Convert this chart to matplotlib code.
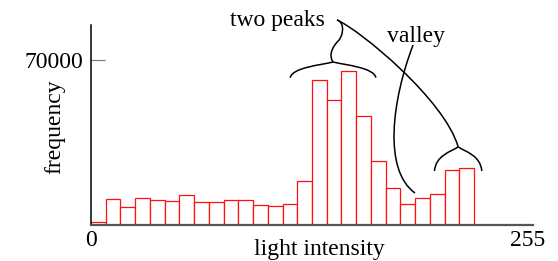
import matplotlib.pyplot as plt
import numpy as np
from matplotlib.path import Path
from matplotlib.patches import PathPatch

# histogram of light intensity (26 filled bins of width 8.6)
bin_w = 8.6
counts = [1150, 11000, 7600, 11600, 10500, 10200, 12600, 9750, 9750, 10500,
          10500, 8500, 8060, 8900, 18650, 61400, 53000, 65200, 46400, 27300,
          15700, 9000, 11600, 13150, 23500, 24300]
x_ticks = [0, 255]
x_ticklabels = ['0', '255']
y_ticks = [70000]
y_ticklabels = ['70000']

plt.rcParams['font.family'] = ['Liberation Serif', 'DejaVu Serif']
fs = 17

fig = plt.figure(figsize=(5.58, 2.61), dpi=100)
ax = fig.add_axes([91 / 558, 36 / 261, 442 / 558, 200 / 261])

left = np.arange(len(counts)) * bin_w
ax.bar(left, counts, width=bin_w, align='edge', facecolor='white',
       edgecolor='#ff1010', linewidth=0.9)

ax.set_xlim(0, 258)
ax.set_ylim(0, 84850)
for s in ['top', 'right']:
    ax.spines[s].set_visible(False)
ax.spines['left'].set_color('black')
ax.spines['left'].set_linewidth(1.1)
ax.spines['bottom'].set_color('#555555')
ax.spines['bottom'].set_linewidth(1.6)

ax.set_xticks(x_ticks)
ax.set_xticklabels(x_ticklabels, fontsize=fs)
ax.tick_params(axis='x', length=0, pad=3.5)
ax.set_yticks(y_ticks)
ax.set_yticklabels(y_ticklabels, fontsize=fs)
ax.tick_params(axis='y', direction='in', length=10, width=0.8, color='#777777', pad=5.5)

ax.text(0.516, -0.122, 'light intensity', transform=ax.transAxes,
        ha='center', va='center', fontsize=fs)
ax.text(-0.0826, 0.49, 'frequency', transform=ax.transAxes, rotation=90,
        ha='center', va='center', fontsize=fs)


def curve(pts):
    # chain of cubic bezier segments: p0, c1, c2, p1, c1, c2, p2 ...
    codes = [Path.MOVETO] + [Path.CURVE4] * (len(pts) - 1)
    ax.add_patch(PathPatch(Path(pts, codes), facecolor='none', edgecolor='black',
                           linewidth=1.1, clip_on=False))


def brace(xc, half, y_end, y_tip):
    dy = y_tip - y_end
    for sgn in (-1, 1):
        curve([(xc + sgn * half, y_end),
               (xc + sgn * 0.95 * half, y_end + 0.65 * dy),
               (xc + sgn * 0.3 * half, y_tip - 0.2 * dy),
               (xc, y_tip)])


# brace over the two peaks, with stem up to the label
brace(141.3, 25.0, 62500, 69150)
curve([(141.3, 69150), (138.9, 71700), (140.1, 75090), (144.8, 78480),
       (147.7, 81450), (147.7, 86120), (143.6, 86970)])
# long stroke from the label to the right-hand brace
curve([(143.6, 86970), (157.0, 82730), (206.6, 53030), (214.3, 33150)])
brace(214.3, 13.8, 22900, 33150)
# valley pointer
curve([(188.0, 76370), (175.7, 53030), (170.4, 23330), (189.1, 13580)])

ax.text(81.1, 84430, 'two peaks', fontsize=fs, va='baseline', ha='left')
ax.text(172.8, 77640, 'valley', fontsize=fs, va='baseline', ha='left')

fig.savefig('out.png', dpi=100, facecolor='white')
